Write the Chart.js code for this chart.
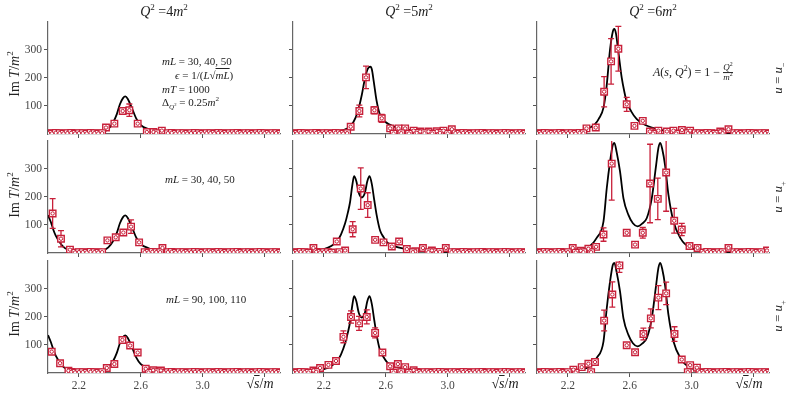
<!DOCTYPE html>
<html>
<head>
<meta charset="utf-8">
<script src="https://cdn.jsdelivr.net/npm/chart.js@4.4.1/dist/chart.umd.min.js"></script>
<style>
body { margin: 0; background: #fff; }
#wrap { position: relative; width: 789px; height: 396px; overflow: hidden;
        font-family: "Liberation Serif", "DejaVu Serif", serif; color: #222; }
#wrap canvas { position: absolute; z-index: 1; }
.t { position: absolute; white-space: nowrap; z-index: 2; transform: translate(-50%, -50%); }
.l { position: absolute; white-space: nowrap; z-index: 2; transform: translate(0, -50%); font-size: 11px; }
.rot { transform: translate(-50%, -50%) rotate(-90deg); }
sup, sub { font-size: 65%; line-height: 0; }
.ov { text-decoration: overline; }
.fr { display: inline-block; vertical-align: middle; text-align: center; font-size: 75%; line-height: 1.05; }
.fr span { display: block; }
.fr span:first-child { border-bottom: 0.6px solid #222; }
</style>
</head>
<body>
<div id="wrap">
  <div class="t" style="left:164px;top:12px;font-size:14px"><i>Q</i><sup>2</sup> =4<i>m</i><sup>2</sup></div>
  <div class="t" style="left:409px;top:12px;font-size:14px"><i>Q</i><sup>2</sup> =5<i>m</i><sup>2</sup></div>
  <div class="t" style="left:653px;top:12px;font-size:14px"><i>Q</i><sup>2</sup> =6<i>m</i><sup>2</sup></div>

  <div class="t rot" style="left:15px;top:74px;font-size:14px">Im <i>T</i>/<i>m</i><sup>2</sup></div>
  <div class="t rot" style="left:15px;top:195px;font-size:14px">Im <i>T</i>/<i>m</i><sup>2</sup></div>
  <div class="t rot" style="left:15px;top:314px;font-size:14px">Im <i>T</i>/<i>m</i><sup>2</sup></div>

  <div class="t rot" style="left:778px;top:78px;font-size:13px"><i>u</i> = <i>u</i><sub>−</sub></div>
  <div class="t rot" style="left:778px;top:197px;font-size:13px"><i>u</i> = <i>u</i><sub>+</sub></div>
  <div class="t rot" style="left:778px;top:316px;font-size:13px"><i>u</i> = <i>u</i><sub>+</sub></div>

  <div class="l" style="left:162px;top:61px"><i>mL</i> = 30, 40, 50</div>
  <div class="l" style="left:175px;top:75px"><i>ϵ</i> = 1/(<i>L</i>√<span class="ov"><i>mL</i></span>)</div>
  <div class="l" style="left:162px;top:89px"><i>mT</i> = 1000</div>
  <div class="l" style="left:162px;top:102px">Δ<sub><i>Q</i><sup>2</sup></sub> = 0.25<i>m</i><sup>2</sup></div>
  <div class="l" style="left:653px;top:73px;font-size:12px"><i>A</i>(<i>s</i>, <i>Q</i><sup>2</sup>) = 1 − <span class="fr"><span><i>Q</i><sup>2</sup></span><span><i>m</i><sup>2</sup></span></span></div>
  <div class="l" style="left:165px;top:179px"><i>mL</i> = 30, 40, 50</div>
  <div class="l" style="left:166px;top:299px"><i>mL</i> = 90, 100, 110</div>

  <div class="t" style="left:260px;top:384px;font-size:14px">√<span class="ov"><i>s</i></span>/<i>m</i></div>
  <div class="t" style="left:505px;top:384px;font-size:14px">√<span class="ov"><i>s</i></span>/<i>m</i></div>
  <div class="t" style="left:749px;top:384px;font-size:14px">√<span class="ov"><i>s</i></span>/<i>m</i></div>
</div>
<script>
// axis ticks
var xTicks = [2.2, 2.6, 3.0, 3.4];
var xLabeled = [2.2, 2.6, 3.0];
var yTicks = [100, 200, 300];

// theory curves
var curveQ4MinusX = [2.0, 2.2, 2.3, 2.35, 2.39, 2.42, 2.445, 2.465, 2.485, 2.5, 2.515, 2.54, 2.57, 2.6, 2.65, 2.7, 2.8, 3.0, 3.2, 3.5];
var curveQ4MinusY = [0, 1, 2, 6, 18, 40, 71, 106, 128, 134, 126, 96, 56, 32, 17, 10, 5, 2, 1, 0];
var curveQ4PlusX = [2.0, 2.02, 2.035, 2.05, 2.08, 2.1, 2.12, 2.15, 2.2, 2.25, 2.3, 2.35, 2.39, 2.42, 2.445, 2.465, 2.485, 2.5, 2.515, 2.54, 2.57, 2.6, 2.65, 2.7, 2.8, 3.0, 3.2, 3.5];
var curveQ4PlusY = [135, 108, 82, 62, 35, 22, 14, 8, 4, 3, 4, 8, 20, 42, 72, 106, 128, 134, 126, 96, 56, 32, 17, 10, 5, 2, 1, 0];

var curveQ5MinusX = [2.0, 2.2, 2.3, 2.35, 2.39, 2.42, 2.445, 2.465, 2.485, 2.5, 2.51, 2.522, 2.54, 2.563, 2.6, 2.65, 2.7, 2.8, 2.9, 3.0, 3.1, 3.5];
var curveQ5MinusY = [1, 4, 10, 20, 42, 82, 140, 198, 234, 240, 230, 188, 120, 68, 42, 27, 19, 12, 7, 4, 2, 0];
var curveQ5PlusX = [2.0, 2.1, 2.2, 2.25, 2.283, 2.31, 2.337, 2.355, 2.369, 2.383, 2.395, 2.41, 2.425, 2.445, 2.465, 2.48, 2.495, 2.51, 2.525, 2.54, 2.563, 2.585, 2.606, 2.64, 2.68, 2.75, 2.85, 3.0, 3.2, 3.5];
var curveQ5PlusY = [3, 6, 14, 26, 41, 66, 106, 145, 182, 240, 274, 255, 215, 198, 215, 255, 274, 245, 190, 138, 80, 57, 40, 28, 20, 13, 8, 4, 2, 1];

var curveQ6MinusX = [2.0, 2.2, 2.3, 2.35, 2.375, 2.4, 2.43, 2.45, 2.472, 2.49, 2.5, 2.51, 2.526, 2.548, 2.565, 2.58, 2.61, 2.645, 2.7, 2.8, 2.9, 3.0, 3.2, 3.5];
var curveQ6MinusY = [2, 6, 15, 25, 35, 55, 94, 170, 300, 365, 375, 360, 294, 200, 150, 115, 80, 53, 32, 15, 9, 6, 3, 1];
var curveQ6PlusX = [2.0, 2.2, 2.3, 2.343, 2.386, 2.43, 2.451, 2.472, 2.49, 2.5, 2.515, 2.537, 2.559, 2.591, 2.62, 2.65, 2.68, 2.71, 2.742, 2.77, 2.785, 2.797, 2.81, 2.828, 2.85, 2.882, 2.926, 2.99, 3.1, 3.2, 3.35, 3.5];
var curveQ6PlusY = [2, 6, 14, 25, 54, 113, 231, 325, 385, 393, 360, 290, 195, 136, 106, 95, 105, 125, 195, 313, 375, 393, 370, 313, 207, 113, 54, 19, 9, 5, 3, 2];

// lattice points near zero (shared grid)
var lowX = [2.000, 2.025, 2.050, 2.075, 2.100, 2.125, 2.150, 2.175, 2.200, 2.225, 2.250, 2.275, 2.300, 2.325, 2.350, 2.375, 2.400, 2.425, 2.450, 2.475, 2.500, 2.525, 2.550, 2.575, 2.600, 2.625, 2.650, 2.675, 2.700, 2.725, 2.750, 2.775, 2.800, 2.825, 2.850, 2.875, 2.900, 2.925, 2.950, 2.975, 3.000, 3.025, 3.050, 3.075, 3.100, 3.125, 3.150, 3.175, 3.200, 3.225, 3.250, 3.275, 3.300, 3.325, 3.350, 3.375, 3.400, 3.425, 3.450, 3.475, 3.500];
var lowY = [3, 2, 4, 3, 2, 3, 4, 2, 3, 3, 2, 4, 3, 2, 3, 3, 4, 2, 3, 2, 3, 4, 3, 2, 3, 3, 2, 4, 3, 3, 2, 3, 4, 2, 3, 3, 2, 3, 4, 3, 2, 3, 3, 2, 4, 3, 2, 3, 3, 4, 2, 3, 3, 2, 3, 4, 3, 2, 3, 3, 2];

// lattice points, u = u-, mL = 30,40,50
var minusQ4X = [2.375, 2.429, 2.483, 2.526, 2.58, 2.639, 2.682, 2.736];
var minusQ4Y = [23, 37, 82, 85, 37, 7, 7, 12];
var minusQ4Err = [4, 5, 6, 22, 5, 0, 0, 3];
var minusQ4Gaps = [[2.36, 2.6]];

var minusQ5X = [2.373, 2.429, 2.472, 2.526, 2.574, 2.628, 2.682, 2.725, 2.78, 2.822, 2.876, 2.93, 2.973, 3.027];
var minusQ5Y = [26, 82, 202, 85, 56, 20, 20, 20, 12, 9, 9, 10, 12, 17];
var minusQ5Err = [4, 21, 40, 13, 14, 4, 4, 4, 3, 3, 3, 3, 3, 4];
var minusQ5Gaps = [[2.36, 2.62]];

var minusQ6X = [2.32, 2.38, 2.434, 2.479, 2.526, 2.58, 2.63, 2.684, 2.73, 2.785, 2.84, 2.882, 2.937, 2.99, 3.185, 3.238];
var minusQ6Y = [20, 23, 151, 259, 304, 106, 29, 47, 9, 12, 9, 12, 14, 12, 9, 17];
var minusQ6Err = [4, 4, 54, 81, 80, 25, 5, 6, 3, 3, 3, 3, 3, 3, 3, 4];
var minusQ6Gaps = [[2.31, 2.72]];

// u = u+, mL = 30,40,50
var plusQ4X = [2.03, 2.084, 2.142, 2.384, 2.438, 2.487, 2.537, 2.589, 2.74];
var plusQ4Y = [141, 51, 12, 45, 56, 73, 94, 38, 18];
var plusQ4Err = [53, 29, 3, 5, 6, 7, 24, 5, 4];
var plusQ4Gaps = [[2.0, 2.13], [2.37, 2.6]];

var plusQ5X = [2.132, 2.283, 2.337, 2.386, 2.438, 2.483, 2.531, 2.585, 2.639, 2.686, 2.736, 2.79, 2.84, 2.898, 2.988];
var plusQ5Y = [18, 41, 9, 85, 230, 171, 47, 38, 23, 41, 14, 6, 18, 9, 18];
var plusQ5Err = [4, 6, 3, 27, 74, 44, 5, 6, 5, 6, 4, 3, 4, 3, 4];
var plusQ5Gaps = [[2.35, 2.75]];

var plusQ6X = [2.231, 2.283, 2.332, 2.382, 2.43, 2.483, 2.58, 2.634, 2.684, 2.731, 2.781, 2.835, 2.887, 2.936, 2.986, 3.038, 3.238, 3.487];
var plusQ6Y = [18, 8, 15, 22, 66, 319, 72, 30, 72, 248, 193, 287, 115, 84, 25, 18, 18, 9];
var plusQ6Err = [3, 3, 3, 4, 24, 130, 6, 4, 19, 140, 74, 138, 44, 22, 4, 4, 4, 3];
var plusQ6Gaps = [[2.39, 2.96]];

// u = u+, mL = 90,100,110
var bigQ4X = [2.024, 2.078, 2.132, 2.38, 2.429, 2.481, 2.531, 2.58, 2.632, 2.68, 2.73];
var bigQ4Y = [76, 35, 8, 18, 32, 118, 98, 73, 15, 10, 9];
var bigQ4Err = [6, 5, 3, 4, 5, 8, 7, 6, 4, 3, 3];
var bigQ4Gaps = [[2.0, 2.12], [2.37, 2.62]];

var bigQ5X = [2.132, 2.175, 2.229, 2.278, 2.326, 2.375, 2.427, 2.477, 2.531, 2.578, 2.628, 2.678, 2.725, 2.78];
var bigQ5Y = [9, 18, 29, 43, 129, 200, 177, 200, 143, 73, 24, 32, 21, 10];
var bigQ5Err = [3, 4, 4, 5, 21, 22, 25, 25, 18, 8, 4, 5, 4, 3];
var bigQ5Gaps = [[2.2, 2.64]];

var bigQ6X = [2.235, 2.289, 2.332, 2.375, 2.434, 2.487, 2.533, 2.58, 2.634, 2.688, 2.736, 2.785, 2.835, 2.889, 2.936, 2.99, 3.034];
var bigQ6Y = [12, 21, 33, 39, 187, 280, 384, 99, 74, 139, 195, 269, 284, 139, 48, 28, 19];
var bigQ6Err = [3, 4, 5, 5, 37, 45, 25, 7, 6, 21, 34, 43, 40, 26, 5, 4, 4];
var bigQ6Gaps = [[2.36, 2.95]];

var xErrHalf = 0.012;

var red = '#c8203a';
var colLeft = [48, 293, 537];
var rowTop = [21, 140, 260];

var panels = [
  [0, 0, curveQ4MinusX, curveQ4MinusY, minusQ4X, minusQ4Y, minusQ4Err, minusQ4Gaps],
  [0, 1, curveQ5MinusX, curveQ5MinusY, minusQ5X, minusQ5Y, minusQ5Err, minusQ5Gaps],
  [0, 2, curveQ6MinusX, curveQ6MinusY, minusQ6X, minusQ6Y, minusQ6Err, minusQ6Gaps],
  [1, 0, curveQ4PlusX, curveQ4PlusY, plusQ4X, plusQ4Y, plusQ4Err, plusQ4Gaps],
  [1, 1, curveQ5PlusX, curveQ5PlusY, plusQ5X, plusQ5Y, plusQ5Err, plusQ5Gaps],
  [1, 2, curveQ6PlusX, curveQ6PlusY, plusQ6X, plusQ6Y, plusQ6Err, plusQ6Gaps],
  [2, 0, curveQ4PlusX, curveQ4PlusY, bigQ4X, bigQ4Y, bigQ4Err, bigQ4Gaps],
  [2, 1, curveQ5PlusX, curveQ5PlusY, bigQ5X, bigQ5Y, bigQ5Err, bigQ5Gaps],
  [2, 2, curveQ6PlusX, curveQ6PlusY, bigQ6X, bigQ6Y, bigQ6Err, bigQ6Gaps]
];

// error bars drawn just before the marker dataset
var errorBars = {
  id: 'errorBars',
  beforeDatasetDraw: function(chart, args) {
    var ds = chart.data.datasets[args.index];
    if (!ds.yErr) return;
    var ctx = chart.ctx, a = chart.chartArea, xs = chart.scales.x, ys = chart.scales.y;
    ctx.save();
    ctx.beginPath();
    ctx.rect(a.left, a.top, a.right - a.left, a.bottom - a.top);
    ctx.clip();
    ctx.strokeStyle = red;
    ctx.lineWidth = 1.3;
    ds.data.forEach(function(p, i) {
      var px = xs.getPixelForValue(p.x), py = ys.getPixelForValue(p.y);
      var l = xs.getPixelForValue(p.x - xErrHalf), r = xs.getPixelForValue(p.x + xErrHalf);
      ctx.beginPath();
      ctx.moveTo(l, py); ctx.lineTo(r, py);
      ctx.moveTo(l, py - 2.5); ctx.lineTo(l, py + 2.5);
      ctx.moveTo(r, py - 2.5); ctx.lineTo(r, py + 2.5);
      var e = ds.yErr[i];
      if (e) {
        var t = ys.getPixelForValue(p.y + e), b = ys.getPixelForValue(p.y - e);
        ctx.moveTo(px, t); ctx.lineTo(px, b);
        ctx.moveTo(px - 3, t); ctx.lineTo(px + 3, t);
        ctx.moveTo(px - 3, b); ctx.lineTo(px + 3, b);
      }
      ctx.stroke();
    });
    ctx.restore();
  }
};

function toPoints(xs, ys) {
  return xs.map(function(x, i) { return {x: x, y: ys[i]}; });
}

function withLow(xs, ys, es, gaps) {
  var pts = toPoints(xs, ys), errs = es.slice();
  lowX.forEach(function(x, i) {
    var inGap = gaps.some(function(g) { return x >= g[0] && x <= g[1]; });
    var near = xs.some(function(v) { return Math.abs(v - x) < 0.015; });
    if (!inGap && !near) { pts.push({x: x, y: lowY[i]}); errs.push(0); }
  });
  return {pts: pts, errs: errs};
}

var wrap = document.getElementById('wrap');
var tickFont = {family: 'Liberation Serif', size: 11.5};

panels.forEach(function(p) {
  var row = p[0], col = p[1];
  var cv = document.createElement('canvas');
  cv.width = 280; cv.height = 141;
  cv.style.left = (colLeft[col] - 40) + 'px';
  cv.style.top = (rowTop[row] - 8) + 'px';
  wrap.insertBefore(cv, wrap.firstChild);

  var lat = withLow(p[4], p[5], p[6], p[7]);

  new Chart(cv.getContext('2d'), {
    type: 'scatter',
    data: {
      datasets: [{
        type: 'line',
        data: toPoints(p[2], p[3]),
        borderColor: '#000',
        borderWidth: 1.8,
        pointRadius: 0,
        cubicInterpolationMode: 'monotone',
        order: 2
      }, {
        data: lat.pts,
        yErr: lat.errs,
        pointStyle: 'rect',
        pointRadius: 4.6,
        borderColor: red,
        backgroundColor: '#fff',
        borderWidth: 1.4,
        clip: 0,
        order: 1
      }, {
        data: lat.pts,
        pointStyle: 'circle',
        pointRadius: 1.7,
        borderColor: red,
        backgroundColor: '#fff',
        borderWidth: 1,
        clip: 0,
        order: 0
      }]
    },
    options: {
      responsive: false,
      animation: false,
      devicePixelRatio: 1,
      layout: {padding: {top: 8, right: 8, left: 0, bottom: 0}},
      plugins: {legend: {display: false}, tooltip: {enabled: false}},
      scales: {
        x: {
          type: 'linear', min: 2.0, max: 3.5,
          afterBuildTicks: function(s) { s.ticks = xTicks.map(function(v) { return {value: v}; }); },
          afterFit: function(s) { s.height = 20; },
          grid: {drawOnChartArea: false, drawTicks: true, tickLength: 4, color: '#555'},
          border: {color: '#666', width: 1.2},
          ticks: {
            font: tickFont, color: '#444', padding: 2, maxRotation: 0, autoSkip: false,
            callback: function(v) { return (row === 2 && xLabeled.indexOf(v) >= 0) ? v.toFixed(1) : ''; }
          }
        },
        y: {
          min: 0, max: 400,
          afterBuildTicks: function(s) { s.ticks = yTicks.map(function(v) { return {value: v}; }); },
          afterFit: function(s) { s.width = 40; },
          grid: {drawOnChartArea: false, drawTicks: true, tickLength: 4, color: '#555'},
          border: {color: '#666', width: 1.2},
          ticks: {
            font: tickFont, color: '#444', padding: 2,
            callback: function(v) { return col === 0 ? String(v) : ''; }
          }
        }
      }
    },
    plugins: [errorBars]
  });
});
</script>
</body>
</html>
